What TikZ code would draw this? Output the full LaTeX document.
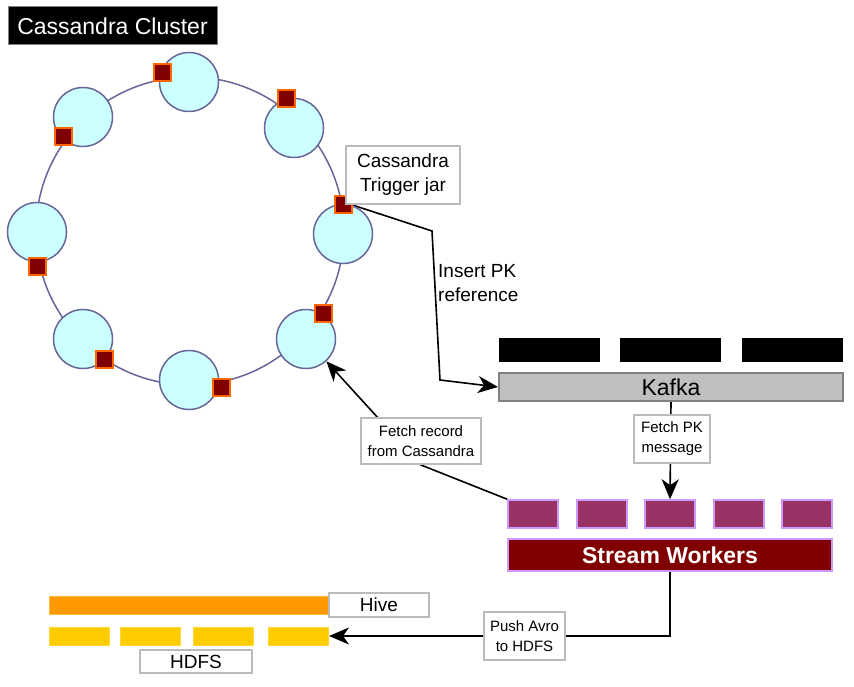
\documentclass[tikz,border=0pt]{standalone}
\usepackage{fontspec}
\setmainfont{Liberation Sans}
\usetikzlibrary{arrows.meta,backgrounds}

\definecolor{ringline}{HTML}{666699}
\definecolor{nodefill}{HTML}{CCFFFF}
\definecolor{trigfill}{HTML}{800000}
\definecolor{trigline}{HTML}{FF6600}
\definecolor{workfill}{HTML}{993366}
\definecolor{workline}{HTML}{CC99FF}
\definecolor{hivefill}{HTML}{FF9900}
\definecolor{hiveline}{HTML}{FFB833}
\definecolor{hdfsfill}{HTML}{FFCC00}
\definecolor{hdfsline}{HTML}{FFD633}
\definecolor{boxline}{HTML}{BBBBBB}
\definecolor{kafkafill}{HTML}{C0C0C0}
\definecolor{kafkaline}{HTML}{808080}

\tikzset{
  title/.style={rectangle,fill=black,draw=gray,line width=1pt,text=white,
    font=\fontsize{23}{28}\selectfont,minimum width=209pt,minimum height=38pt},
  cnode/.style={circle,draw=ringline,fill=nodefill,line width=1.5pt,
    minimum size=59pt,inner sep=0pt},
  trig/.style={rectangle,draw=trigline,fill=trigfill,line width=2pt,
    minimum size=17pt,inner sep=0pt},
  lbox/.style={rectangle,draw=boxline,fill=white,line width=2pt,align=center,
    inner sep=1pt},
  bigtext/.style={font=\fontsize{19}{24}\selectfont},
  smalltext/.style={font=\fontsize{15}{20}\selectfont},
  topic/.style={rectangle,fill=black,minimum width=101pt,minimum height=24pt,
    inner sep=0pt},
  kafka/.style={rectangle,draw=kafkaline,fill=kafkafill,line width=2pt,
    font=\fontsize{23}{28}\selectfont,minimum width=344pt,minimum height=28pt,
    inner sep=0pt},
  worker/.style={rectangle,draw=workline,fill=workfill,line width=1.5pt,
    minimum width=50pt,minimum height=28pt,inner sep=0pt},
  stream/.style={rectangle,draw=workline,fill=trigfill,line width=1.5pt,
    text=white,font=\bfseries\fontsize{23}{28}\selectfont,
    minimum width=324pt,minimum height=32pt,inner sep=0pt},
  hive/.style={rectangle,draw=hiveline,fill=hivefill,line width=1pt,
    minimum width=280pt,minimum height=18pt,inner sep=0pt},
  hdfs/.style={rectangle,draw=hdfsline,fill=hdfsfill,line width=1pt,
    minimum width=60pt,minimum height=18pt,inner sep=0pt},
  conn/.style={line width=1.6pt,-{Stealth[length=20pt,width=17pt,inset=6pt]}}
}

\begin{document}
\begin{tikzpicture}[x=1pt,y=-1pt]
  \useasboundingbox (0,0) rectangle (854,687);

  % cassandra ring
  \node [title] (cc) at (112.5,26) {Cassandra Cluster};
  \draw [ringline,line width=1.5pt] (190,231) circle [radius=154pt];
  \foreach \n/\x/\y in {1/189/82, 2/294/128, 3/343/234, 4/306/339,
                        5/189/380, 6/83/339, 7/37/232, 8/83/117}
    \node [cnode] (c\n) at (\x,\y) {};
  \foreach \n/\x/\y in {1/162/73, 2/286/99, 3/343/205, 4/323/313,
                        5/221/387, 6/104/359, 7/37/266, 8/63/137}
    \node [trig] (t\n) at (\x,\y) {};
  \node [lbox,bigtext,minimum width=114pt,minimum height=58pt] (jar) at (403,175)
    {Cassandra\\Trigger jar};
  \node [bigtext,align=left,anchor=north west,inner sep=0pt] (ipk) at (438,264)
    {Insert PK\\reference};

  % kafka
  \foreach \n/\x in {1/549.5, 2/670.5, 3/792}
    \node [topic] (k\n) at (\x,350) {};
  \node [kafka] (kafka) at (671,387) {Kafka};
  \node [lbox,smalltext,minimum width=76pt,minimum height=48pt] (fpk) at (672,439)
    {Fetch PK\\message};

  % stream workers
  \foreach \n/\x in {1/533, 2/602, 3/670, 4/739, 5/807}
    \node [worker] (w\n) at (\x,514) {};
  \node [stream] (sw) at (670,555) {Stream Workers};
  \node [lbox,smalltext,minimum width=120pt,minimum height=46pt] (fr) at (421,441)
    {Fetch record\\from Cassandra};

  % hive and hdfs
  \node [hive] (hive) at (189,605) {};
  \node [lbox,bigtext,minimum width=100pt,minimum height=24pt,inner sep=0pt] (hivel) at (379,605) {Hive};
  \foreach \n/\x in {1/79, 2/150, 3/223, 4/298.5}
    \node [hdfs] (h\n) at (\x,636) {};
  \node [lbox,bigtext,minimum width=112pt,minimum height=23pt,inner sep=0pt] (hdfsl) at (196,661.5) {HDFS};
  \node [lbox,smalltext,minimum width=81pt,minimum height=48pt] (pa) at (524.5,636)
    {Push Avro\\to HDFS};

  % connectors
  \begin{pgfonlayer}{background}
    \coordinate (b1) at (432,231);
    \coordinate (b2) at (440,380);
    \draw [conn] (t3.east) -- (b1) -- (b2) -- (kafka.west);
    \draw [conn] (kafka.south) -- (w3.north);
    \draw [conn] (w1.north west) -- (fr.south) -- (c4);
    \draw [conn] (sw.south) |- (h4.east);
  \end{pgfonlayer}
\end{tikzpicture}
\end{document}
